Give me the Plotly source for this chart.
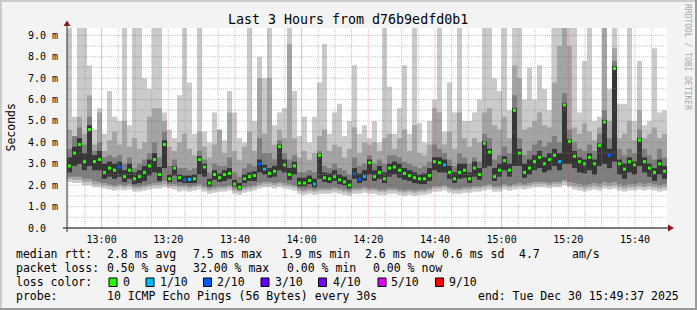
import numpy as np
import pandas as pd
import plotly.graph_objects as go

FONT = "DejaVu Sans Mono, monospace"
W, H = 697, 310
PL, PR, PT, PB = 67, 667, 28, 228      # plot area in pixels

start = pd.Timestamp("2025-12-30 12:49:37")
end = pd.Timestamp("2025-12-30 15:49:37")
step_s = 90
y_max = 9.345

# ---- data (ms), one value per 90 s bin ----
med = [2.9, 3.5, 3.9, 3.1, 4.6, 3.1, 3.2, 2.6, 2.8, 2.7, 2.85, 2.4, 2.7, 2.3, 2.4, 2.6, 2.9, 3.2, 2.5, 3.9,
       2.3, 2.8, 2.35, 2.25, 2.27, 2.3, 3.2, 2.85, 2.1, 2.5, 2.35, 2.5, 2.55, 2.05, 1.9, 2.3, 2.4, 2.45, 3.0, 2.75,
       2.55, 2.65, 3.8, 2.95, 2.5, 2.9, 2.1, 2.1, 2.22, 2.05, 3.4, 2.35, 2.3, 2.4, 2.25, 2.15, 2.0, 2.55, 2.27, 2.4,
       3.05, 2.4, 2.6, 2.3, 2.8, 2.85, 2.7, 2.55, 2.45, 2.35, 2.3, 2.3, 2.45, 3.1, 3.05, 2.95, 2.6, 2.3, 2.6, 2.7,
       2.3, 2.8, 2.5, 3.96, 3.55, 2.4, 2.7, 3.15, 2.7, 5.5, 3.5, 2.6, 2.8, 3.1, 3.3, 3.0, 3.2, 3.4, 3.1, 5.75,
       4.05, 3.35, 3.1, 3.0, 3.3, 3.0, 3.85, 4.95, 3.4, 7.45, 3.0, 2.75, 3.1, 2.95, 4.1, 3.1, 2.8, 2.6, 3.0, 2.65]

ping_min = [2.15, 2.1, 2.1, 2.0, 2.0, 1.9, 1.9, 1.85, 1.8, 1.75, 1.8, 1.75, 1.8, 1.7, 1.7, 1.75, 1.8, 1.85, 1.85, 1.9,
            1.85, 1.8, 1.7, 1.75, 1.7, 1.75, 1.8, 1.7, 1.6, 1.65, 1.7, 1.7, 1.75, 1.6, 1.55, 1.65, 1.7, 1.75, 1.85, 1.9,
            1.9, 1.85, 1.9, 1.85, 1.8, 1.75, 1.6, 1.55, 1.6, 1.55, 1.6, 1.6, 1.6, 1.65, 1.6, 1.55, 1.5, 1.6, 1.6, 1.65,
            1.6, 1.6, 1.55, 1.55, 1.6, 1.6, 1.55, 1.5, 1.55, 1.5, 1.55, 1.55, 1.6, 1.7, 1.7, 1.75, 1.65, 1.6, 1.6, 1.65,
            1.65, 1.7, 1.7, 1.75, 1.8, 1.7, 1.7, 1.8, 1.75, 1.8, 1.85, 1.8, 1.85, 1.9, 1.9, 1.9, 1.85, 1.9, 1.9, 2.0,
            1.9, 1.8, 1.75, 1.7, 1.75, 1.8, 1.75, 1.85, 1.8, 1.85, 1.75, 1.7, 1.75, 1.75, 1.8, 1.75, 1.8, 1.75, 1.7, 1.75]

ping_max = [9.4, 5.2, 9.4, 9.4, 7.6, 4.6, 5.6, 4.4, 6.4, 5.2, 5.0, 9.4, 4.8, 9.4, 9.4, 7.0, 6.5, 9.4, 9.4, 5.4,
            4.6, 4.2, 6.2, 9.4, 6.8, 4.4, 9.4, 4.5, 4.0, 5.4, 4.4, 4.1, 6.4, 5.4, 4.2, 4.0, 9.4, 5.0, 8.0, 7.0,
            9.4, 4.8, 5.4, 5.6, 9.4, 6.4, 4.3, 5.2, 4.0, 5.2, 6.8, 8.6, 4.4, 5.4, 5.8, 4.3, 5.0, 7.6, 4.4, 4.8,
            4.2, 5.0, 4.0, 9.4, 6.6, 4.4, 5.6, 7.6, 4.4, 9.4, 4.9, 4.0, 5.0, 6.0, 9.4, 4.5, 6.8, 5.4, 9.4, 5.0,
            5.0, 5.4, 6.0, 9.4, 9.4, 7.0, 6.4, 9.4, 5.5, 9.4, 9.4, 6.0, 7.5, 6.0, 7.6, 6.5, 5.5, 9.4, 9.4, 9.4,
            9.4, 9.4, 5.4, 7.8, 9.4, 5.0, 5.2, 9.4, 6.5, 9.4, 5.8, 5.8, 9.4, 5.0, 7.8, 4.8, 5.0, 8.4, 5.4, 5.5]

ping2 = [2.3, 2.25, 2.25, 2.15, 2.15, 2.05, 2.05, 2.0, 1.95, 1.9, 1.95, 1.9, 1.95, 1.85, 1.85, 1.9, 1.95, 2.0, 2.0, 2.05,
         1.95, 1.95, 1.9, 1.9, 1.85, 1.9, 1.95, 1.85, 1.75, 1.8, 1.85, 1.85, 1.9, 1.75, 1.7, 1.8, 1.85, 1.9, 2.0, 2.05,
         2.05, 2.0, 2.05, 2.0, 1.95, 1.9, 1.75, 1.7, 1.75, 1.7, 1.75, 1.75, 1.75, 1.8, 1.75, 1.7, 1.65, 1.75, 1.75, 1.8,
         1.75, 1.75, 1.7, 1.7, 1.75, 1.75, 1.7, 1.65, 1.7, 1.65, 1.7, 1.7, 1.75, 1.85, 1.85, 1.9, 1.8, 1.75, 1.75, 1.8,
         1.8, 1.85, 1.85, 1.9, 1.95, 1.85, 1.85, 1.95, 1.9, 1.95, 2.0, 1.95, 2.0, 2.05, 2.05, 2.05, 2.0, 2.05, 2.05, 2.15,
         2.0, 1.95, 1.9, 1.85, 1.9, 1.95, 1.9, 2.0, 1.95, 2.0, 1.9, 1.85, 1.9, 1.9, 1.95, 1.9, 1.95, 1.9, 1.85, 1.9]

ping9 = [4.6, 4.3, 5.2, 4.4, 6.2, 3.9, 5.4, 3.6, 4.1, 4.5, 3.9, 5.0, 3.8, 4.2, 3.7, 4.0, 5.2, 5.6, 5.6, 5.0,
         3.8, 3.6, 4.0, 4.4, 3.7, 3.4, 4.5, 3.8, 3.3, 3.9, 4.6, 3.5, 5.4, 3.6, 3.2, 3.8, 4.5, 3.6, 7.0, 4.4,
         7.0, 3.9, 4.6, 4.2, 8.6, 4.2, 3.3, 3.6, 3.2, 3.5, 4.3, 4.6, 3.6, 3.9, 3.8, 3.3, 3.7, 4.7, 3.5, 4.0,
         3.9, 4.0, 3.6, 4.2, 4.4, 3.7, 4.2, 4.6, 3.6, 4.8, 3.5, 3.4, 3.9, 5.6, 5.4, 3.9, 4.5, 3.7, 5.4, 4.2,
         3.8, 4.2, 4.0, 5.4, 5.6, 4.8, 4.6, 5.2, 4.2, 7.6, 7.0, 4.6, 4.7, 5.0, 5.4, 4.8, 4.7, 6.8, 8.5, 9.4,
         8.5, 4.7, 4.4, 4.9, 4.5, 4.1, 4.7, 9.4, 5.0, 8.4, 4.2, 4.4, 5.0, 4.1, 5.5, 4.2, 4.4, 4.7, 4.2, 4.4]

ping3 = [2.4, 2.4, 2.4, 2.3, 2.3, 2.2, 2.15, 2.1, 2.05, 2.0, 2.05, 2.0, 2.05, 1.95, 1.95, 2.0, 2.05, 2.1, 2.1, 2.2,
         2.05, 2.05, 2.0, 2.0, 1.95, 2.0, 2.05, 1.95, 1.85, 1.9, 1.95, 1.95, 2.0, 1.85, 1.8, 1.9, 1.95, 2.0, 2.1, 2.15,
         2.15, 2.1, 2.15, 2.1, 2.05, 2.0, 1.85, 1.8, 1.85, 1.8, 1.85, 1.85, 1.85, 1.9, 1.85, 1.8, 1.75, 1.85, 1.85, 1.9,
         1.85, 1.85, 1.8, 1.8, 1.85, 1.85, 1.8, 1.75, 1.8, 1.75, 1.8, 1.8, 1.85, 1.95, 1.95, 2.0, 1.9, 1.85, 1.85, 1.9,
         1.9, 1.95, 1.95, 2.0, 2.05, 1.95, 1.95, 2.05, 2.0, 2.05, 2.1, 2.05, 2.1, 2.15, 2.15, 2.15, 2.1, 2.15, 2.15, 2.25,
         2.15, 2.1, 2.05, 2.0, 2.05, 2.1, 2.05, 2.15, 2.1, 2.15, 2.05, 2.0, 2.05, 2.05, 2.1, 2.05, 2.1, 2.05, 2.0, 2.05]

ping8 = [3.7, 4.3, 4.7, 3.9, 5.2, 3.6, 4.0, 3.3, 3.4, 3.3, 3.4, 3.0, 3.3, 2.8, 3.0, 3.2, 3.5, 4.0, 3.3, 4.5,
         2.9, 3.2, 2.8, 2.8, 2.7, 2.8, 3.6, 3.2, 2.6, 3.0, 2.9, 2.9, 3.3, 2.6, 2.4, 2.8, 3.0, 2.9, 4.2, 3.5,
         3.5, 3.2, 4.1, 3.5, 3.2, 3.4, 2.6, 2.6, 2.7, 2.6, 3.6, 2.9, 2.8, 3.0, 2.8, 2.7, 2.5, 3.3, 2.9, 3.0,
         3.4, 3.0, 3.2, 3.0, 3.4, 3.4, 3.3, 3.1, 3.0, 2.9, 2.8, 2.9, 3.1, 3.9, 3.7, 3.5, 3.2, 2.9, 3.5, 3.3,
         3.0, 3.3, 3.1, 4.4, 4.2, 3.2, 3.4, 3.8, 3.5, 6.2, 4.2, 3.4, 3.6, 3.9, 4.1, 3.8, 4.0, 4.3, 4.0, 6.3,
         4.6, 4.0, 3.7, 3.6, 3.9, 3.6, 4.4, 5.5, 4.2, 7.8, 3.7, 3.4, 3.7, 3.5, 4.6, 3.7, 3.4, 3.2, 3.7, 3.3]

ping5 = [2.6, 2.9, 3.0, 2.7, 2.9, 2.7, 2.7, 2.3, 2.4, 2.3, 2.4, 2.15, 2.3, 2.05, 2.1, 2.2, 2.45, 2.6, 2.2, 2.8,
         2.15, 2.45, 2.15, 2.1, 2.1, 2.1, 2.5, 2.4, 1.95, 2.25, 2.15, 2.2, 2.3, 1.95, 1.8, 2.1, 2.2, 2.2, 2.6, 2.5,
         2.35, 2.4, 2.7, 2.6, 2.25, 2.5, 1.95, 1.95, 2.05, 1.9, 2.3, 2.15, 2.1, 2.2, 2.05, 2.0, 1.85, 2.3, 2.1, 2.2,
         2.5, 2.2, 2.3, 2.1, 2.4, 2.5, 2.35, 2.25, 2.2, 2.1, 2.05, 2.05, 2.2, 2.7, 2.6, 2.6, 2.3, 2.1, 2.3, 2.35,
         2.1, 2.4, 2.25, 2.8, 2.9, 2.2, 2.4, 2.7, 2.4, 2.9, 2.9, 2.35, 2.5, 2.7, 2.8, 2.6, 2.7, 2.9, 2.7, 3.0,
         3.0, 2.8, 2.6, 2.55, 2.7, 2.5, 2.9, 3.0, 2.8, 3.1, 2.5, 2.3, 2.6, 2.5, 2.9, 2.6, 2.4, 2.2, 2.5, 2.3]

ping6 = [3.3, 3.8, 4.2, 3.5, 4.8, 3.4, 3.6, 3.0, 3.1, 3.0, 3.1, 2.7, 3.0, 2.6, 2.7, 2.9, 3.2, 3.5, 2.85, 4.1,
         2.5, 2.9, 2.5, 2.45, 2.45, 2.5, 3.35, 3.0, 2.3, 2.7, 2.55, 2.7, 2.8, 2.25, 2.1, 2.5, 2.6, 2.65, 3.2, 2.95,
         2.8, 2.9, 3.9, 3.2, 2.8, 3.1, 2.35, 2.35, 2.45, 2.3, 3.5, 2.6, 2.55, 2.7, 2.5, 2.4, 2.25, 2.8, 2.55, 2.7,
         3.2, 2.7, 2.9, 2.6, 3.0, 3.1, 3.0, 2.8, 2.7, 2.6, 2.5, 2.55, 2.8, 3.3, 3.3, 3.2, 2.9, 2.6, 3.0, 3.0,
         2.6, 3.1, 2.8, 4.05, 3.7, 2.8, 3.0, 3.35, 3.0, 5.6, 3.7, 3.0, 3.2, 3.4, 3.6, 3.3, 3.5, 3.7, 3.5, 5.85,
         4.15, 3.6, 3.3, 3.2, 3.5, 3.2, 3.95, 5.05, 3.7, 7.55, 3.2, 3.0, 3.3, 3.1, 4.2, 3.3, 3.0, 2.8, 3.2, 2.9]

# lost pings (out of 10) for bins that had loss; all other bins had 0
loss_by_bin = {10: 2, 23: 2, 24: 1, 38: 2, 39: 1, 49: 1, 57: 2, 58: 2, 59: 1, 75: 1, 98: 1, 108: 2}
loss_keys = [0, 1, 2, 3, 4, 5, 9]
loss_labels = ["0", "1/10", "2/10", "3/10", "4/10", "5/10", "9/10"]
loss_colors = ["#26ff00", "#00b8ff", "#0059ff", "#5e00ff", "#7e00ff", "#dd00ff", "#ff0000"]

y_ticks = [0, 1, 2, 3, 4, 5, 6, 7, 8, 9]
y_ticktext = ["0.0\u00a0\u00a0", "1.0 m", "2.0 m", "3.0 m", "4.0 m", "5.0 m", "6.0 m", "7.0 m", "8.0 m", "9.0 m"]
x_ticktext = ["13:00", "13:20", "13:40", "14:00", "14:20", "14:40", "15:00", "15:20", "15:40"]

title = "Last 3 Hours from d76b9edfd0b1"
rtt_stats = ["2.8 ms avg", "7.5 ms max", "1.9 ms min", "2.6 ms now", "0.6 ms sd", "4.7", "am/s"]
loss_stats = ["0.50 % avg", "32.00 % max", "0.00 % min", "0.00 % now"]
probe_text = "10 ICMP Echo Pings (56 Bytes) every 30s"
end_text = "end: Tue Dec 30 15:49:37 2025"

# ---- build ----
n = len(med)
times = [start + pd.Timedelta(seconds=step_s * (i + 0.5)) for i in range(n)]
cmap = dict(zip(loss_keys, loss_colors))
med_colors = [cmap[loss_by_bin.get(i, 0)] for i in range(n)]


def px(x):
    return (x - PL) / (PR - PL)


def py(y):
    return (PB - y) / (PB - PT)


fig = go.Figure()
bands = [(ping_min, ping_max, "#cacaca"), (ping2, ping9, "#a4a4a4"),
         (ping3, ping8, "#7e7e7e"), (ping5, ping6, "#363636")]
for low, high, col in bands:
    low = np.array(low)
    high = np.array(high)
    fig.add_trace(go.Bar(x=times, y=high - low, base=low, width=step_s * 1000,
                         marker=dict(color=col, line=dict(width=0)), hoverinfo="skip"))

fig.add_trace(go.Scatter(x=times, y=med, mode="markers",
                         marker=dict(symbol="square", size=3, color=med_colors, line=dict(width=0)),
                         hoverinfo="skip"))

shapes = []
# grid drawn above the data like rrdtool
for k in range(1, 19):
    v = k * 0.5
    major = (k % 2 == 0)
    shapes.append(dict(type="line", xref="paper", yref="y", x0=0, x1=1, y0=v, y1=v, layer="above",
                       line=dict(color="rgba(255,0,0,0.32)" if major else "rgba(140,140,140,0.5)",
                                 width=1, dash="1px,1px")))
g = pd.Timestamp("2025-12-30 12:50:00")
while g <= end:
    minute = g.hour * 60 + g.minute
    if minute % 60 == 0:
        line = dict(color="rgba(255,0,0,0.3)", width=1)
    elif minute % 20 == 0:
        line = dict(color="rgba(255,0,0,0.32)", width=1, dash="1px,1px")
    else:
        line = dict(color="rgba(140,140,140,0.5)", width=1, dash="1px,1px")
    shapes.append(dict(type="line", xref="x", yref="paper", x0=g, x1=g, y0=0, y1=1, layer="above", line=line))
    g += pd.Timedelta(minutes=5)

# axes lines and arrows
shapes.append(dict(type="line", xref="paper", yref="paper", x0=px(63), x1=px(669), y0=py(228), y1=py(228),
                   line=dict(color="black", width=1), layer="above"))
shapes.append(dict(type="line", xref="paper", yref="paper", x0=px(67), x1=px(67), y0=py(232), y1=py(24),
                   line=dict(color="#333333", width=1), layer="above"))
shapes.append(dict(type="path", xref="paper", yref="paper", layer="above",
                   path=f"M {px(668)},{py(224.5)} L {px(674)},{py(228)} L {px(668)},{py(231.5)} Z",
                   fillcolor="#8b1a1a", line=dict(width=0)))
shapes.append(dict(type="path", xref="paper", yref="paper", layer="above",
                   path=f"M {px(63.5)},{py(26)} L {px(67)},{py(20.5)} L {px(70.5)},{py(26)} Z",
                   fillcolor="#8b1a1a", line=dict(width=0)))

# frame shading
shapes.append(dict(type="rect", xref="paper", yref="paper", x0=px(0), x1=px(W), y0=py(0), y1=py(2),
                   fillcolor="#cbcbcb", line=dict(width=0)))
shapes.append(dict(type="rect", xref="paper", yref="paper", x0=px(0), x1=px(2), y0=py(0), y1=py(H),
                   fillcolor="#cbcbcb", line=dict(width=0)))
shapes.append(dict(type="rect", xref="paper", yref="paper", x0=px(0), x1=px(W), y0=py(H - 2), y1=py(H),
                   fillcolor="#999999", line=dict(width=0)))
shapes.append(dict(type="rect", xref="paper", yref="paper", x0=px(W - 2), x1=px(W), y0=py(0), y1=py(H),
                   fillcolor="#999999", line=dict(width=0)))

# legend colour squares
sq_x = [109, 146, 203.5, 261, 318.5, 378, 435.5]
lab_x = [123.3, 160, 217.3, 275.3, 332.7, 391.3, 449]
for xs, col in zip(sq_x, loss_colors):
    shapes.append(dict(type="rect", xref="paper", yref="paper", x0=px(xs), x1=px(xs + 8),
                       y0=py(278), y1=py(286.5), fillcolor=col, line=dict(color="black", width=1)))

ann = []


def txt(s, x, y, size=11.5, anchor="left", color="black", angle=0, yanchor="middle"):
    ann.append(dict(text=s, x=px(x), y=py(y), xref="paper", yref="paper", xanchor=anchor,
                    yanchor=yanchor, showarrow=False, borderpad=0, borderwidth=0, textangle=angle,
                    font=dict(family=FONT, size=size, color=color)))


txt(title, 348, 19.5, size=13.3, anchor="center")
txt("Seconds", 10.5, 128, size=11.5, anchor="center", angle=-90)
txt("RRDTOOL / TOBI OETIKER", 688, 57, size=8, anchor="center", angle=90, color="#a8a8a8")

txt("median rtt:", 16, 254.3)
for s, x in zip(rtt_stats, [107.3, 193.3, 281, 365, 441.7, 519.3, 571.7]):
    txt(s, x, 254.3)
txt("packet loss:", 16, 268.3)
for s, x in zip(loss_stats, [107.3, 193.3, 287.3, 372.7]):
    txt(s, x, 268.3)
txt("loss color:", 16, 282.3)
for s, x in zip(loss_labels, lab_x):
    txt(s, x, 282.3)
txt("probe:", 16, 296.2)
txt(probe_text, 107.3, 296.2)
txt(end_text, 478.3, 296.2)

x_tickvals = [pd.Timestamp("2025-12-30 13:00") + pd.Timedelta(minutes=20 * k) for k in range(len(x_ticktext))]

fig.update_layout(
    width=W, height=H,
    margin=dict(l=PL, r=W - PR, t=PT, b=H - PB, pad=0),
    paper_bgcolor="#f3f3f3", plot_bgcolor="white",
    barmode="overlay", showlegend=False,
    shapes=shapes, annotations=ann,
    font=dict(family=FONT, size=10, color="black"),
    xaxis=dict(type="date", range=[start, end], showgrid=False, zeroline=False, showline=False,
               tickvals=x_tickvals, ticktext=x_ticktext, ticks="", ticklabelstandoff=4,
               tickfont=dict(family=FONT, size=10)),
    yaxis=dict(range=[0, y_max], showgrid=False, zeroline=False, showline=False,
               tickvals=y_ticks, ticktext=y_ticktext, ticks="", ticklabelstandoff=8,
               tickfont=dict(family=FONT, size=10)),
)

fig.write_html("out.html")
